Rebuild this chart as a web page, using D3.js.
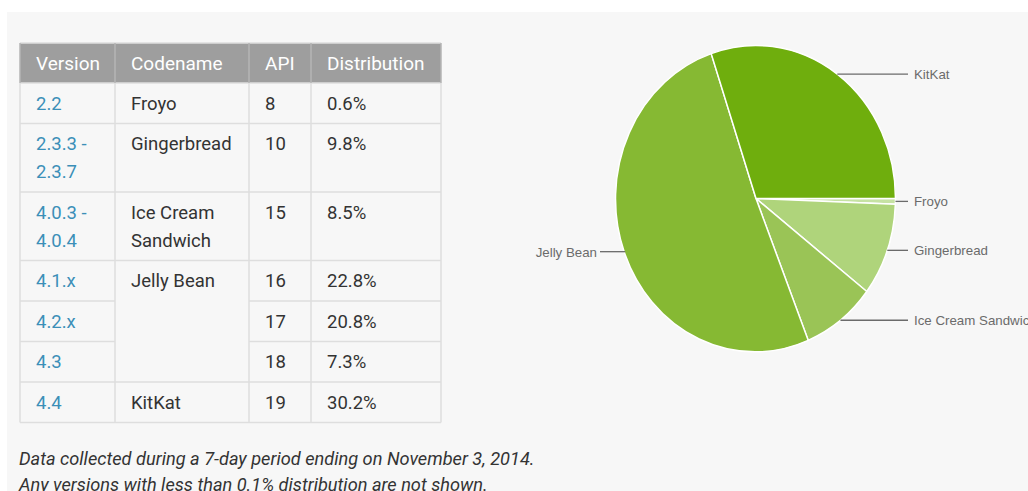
<!DOCTYPE html>
<html>
<head>
<meta charset="utf-8">
<script src="https://cdn.jsdelivr.net/npm/d3@7"></script>
<style>
  html, body { margin: 0; padding: 0; background: #fff; }
  svg { display: block; }
</style>
</head>
<body>
<div id="chart"></div>
<script>
// ── Data ─────────────────────────────────────────
var headers = ["Version", "Codename", "API", "Distribution"];
var versions = [["2.2"], ["2.3.3 -", "2.3.7"], ["4.0.3 -", "4.0.4"], ["4.1.x"], ["4.2.x"], ["4.3"], ["4.4"]];
var codenames = [["Froyo"], ["Gingerbread"], ["Ice Cream", "Sandwich"], ["Jelly Bean"], null, null, ["KitKat"]];
var codenameSpan = [1, 1, 1, 3, 0, 0, 1];
var apis = [8, 10, 15, 16, 17, 18, 19];
var distribution = [0.6, 9.8, 8.5, 22.8, 20.8, 7.3, 30.2];
var rowCodename = ["Froyo", "Gingerbread", "Ice Cream Sandwich", "Jelly Bean", "Jelly Bean", "Jelly Bean", "KitKat"];
var pieOrder = ["Froyo", "Gingerbread", "Ice Cream Sandwich", "Jelly Bean", "KitKat"];
var pieColors = ["#c6e2a3", "#afd47b", "#9ac456", "#86b933", "#6fae0d"];
var notes = [
  "Data collected during a 7-day period ending on November 3, 2014.",
  "Any versions with less than 0.1% distribution are not shown."
];

var W = 1028, H = 491;
var svg = d3.select("#chart").append("svg").attr("width", W).attr("height", H);

svg.append("rect").attr("width", W).attr("height", H).attr("fill", "#fff");
svg.append("rect").attr("x", 7).attr("y", 12).attr("width", W - 7).attr("height", H - 12).attr("fill", "#f7f7f7");

// ── Table ────────────────────────────────────────
var colX = [20, 115, 249, 311, 441];
var tableTop = 43, headH = 40, lineH = 28;
var font = "Roboto, 'Open Sans', sans-serif";
var border = "#dedede";

var rowH = versions.map(function (v) { return 12.5 + lineH * v.length; });
var rowY = [];
var acc = tableTop + headH;
rowH.forEach(function (h) { rowY.push(acc); acc += h; });
var tableBottom = acc;

var tg = svg.append("g");

tg.append("rect")
  .attr("x", colX[0]).attr("y", tableTop)
  .attr("width", colX[4] - colX[0]).attr("height", headH)
  .attr("fill", "#9e9e9e");

headers.forEach(function (h, i) {
  tg.append("text")
    .attr("x", colX[i] + 16).attr("y", tableTop + 26.5)
    .attr("font-family", font).attr("font-size", 19)
    .attr("fill", "#fff").text(h);
});

// cells
function cellText(lines, col, r, color) {
  lines.forEach(function (t, k) {
    tg.append("text")
      .attr("x", colX[col] + 16).attr("y", rowY[r] + 26.5 + k * lineH)
      .attr("font-family", font).attr("font-size", 18.5)
      .attr("fill", color).text(t);
  });
}

versions.forEach(function (v, r) {
  cellText(v, 0, r, "#3b8fb8");
  if (codenames[r]) cellText(codenames[r], 1, r, "#333");
  cellText([String(apis[r])], 2, r, "#333");
  cellText([distribution[r] + "%"], 3, r, "#333");
});

// grid lines
var lineG = tg.append("g").attr("stroke", border).attr("stroke-width", 1.5).attr("fill", "none");
rowY.concat([tableBottom]).forEach(function (y, r) {
  // horizontal line at top of row r (skip codename column when merged)
  if (r < rowY.length && codenameSpan[r] === 0) {
    lineG.append("line").attr("x1", colX[0]).attr("x2", colX[1]).attr("y1", y).attr("y2", y);
    lineG.append("line").attr("x1", colX[2]).attr("x2", colX[4]).attr("y1", y).attr("y2", y);
  } else {
    lineG.append("line").attr("x1", colX[0]).attr("x2", colX[4]).attr("y1", y).attr("y2", y);
  }
});
colX.forEach(function (x) {
  lineG.append("line").attr("x1", x).attr("x2", x).attr("y1", tableTop + headH).attr("y2", tableBottom);
});
lineG.append("line").attr("x1", colX[0]).attr("x2", colX[4]).attr("y1", tableTop).attr("y2", tableTop);
colX.forEach(function (x) {
  tg.append("line").attr("x1", x).attr("x2", x).attr("y1", tableTop).attr("y2", tableTop + headH)
    .attr("stroke", "#b5b5b5").attr("stroke-width", 1.5);
});

// notes
notes.forEach(function (t, i) {
  svg.append("text")
    .attr("x", 19).attr("y", 465 + i * 26)
    .attr("font-family", font).attr("font-style", "italic").attr("font-size", 18.2)
    .attr("fill", "#333").text(t);
});

// ── Pie ──────────────────────────────────────────
var shares = d3.rollup(distribution.map(function (d, i) { return { name: rowCodename[i], v: d }; }),
  function (g) { return d3.sum(g, function (d) { return d.v; }); },
  function (d) { return d.name; });
var pieData = pieOrder.map(function (n) { return { name: n, value: shares.get(n) }; });

var cx = 756, cy = 198.5, rx = 139.5, ry = 153;
var color = d3.scaleOrdinal().domain(pieOrder).range(pieColors);

var arcs = d3.pie().sort(null).value(function (d) { return d.value; })
  .startAngle(Math.PI / 2).endAngle(Math.PI / 2 + 2 * Math.PI)(pieData);

var arc = d3.arc().innerRadius(0).outerRadius(1);

var pg = svg.append("g").attr("transform", "translate(" + cx + "," + cy + ") scale(" + rx + "," + ry + ")");
pg.selectAll("path").data(arcs).join("path")
  .attr("d", arc)
  .attr("fill", function (d) { return color(d.data.name); })
  .attr("stroke", "#fff").attr("stroke-width", 1.5)
  .attr("vector-effect", "non-scaling-stroke");

// leader labels
var lg = svg.append("g");
arcs.forEach(function (d) {
  var a = (d.startAngle + d.endAngle) / 2;
  var px = cx + rx * Math.sin(a), py = cy - ry * Math.cos(a);
  var right = Math.sin(a) > 0;
  var x2 = right ? 908 : 600;
  lg.append("line")
    .attr("x1", px).attr("y1", py).attr("x2", x2).attr("y2", py)
    .attr("stroke", "#6b6b6b").attr("stroke-width", 1.3);
  lg.append("text")
    .attr("x", right ? x2 + 6 : x2 - 3).attr("y", py + 5)
    .attr("text-anchor", right ? "start" : "end")
    .attr("font-family", "Arial, 'Liberation Sans', sans-serif").attr("font-size", 13.3)
    .attr("fill", "#6b6b6b").text(d.data.name);
});
</script>
</body>
</html>
